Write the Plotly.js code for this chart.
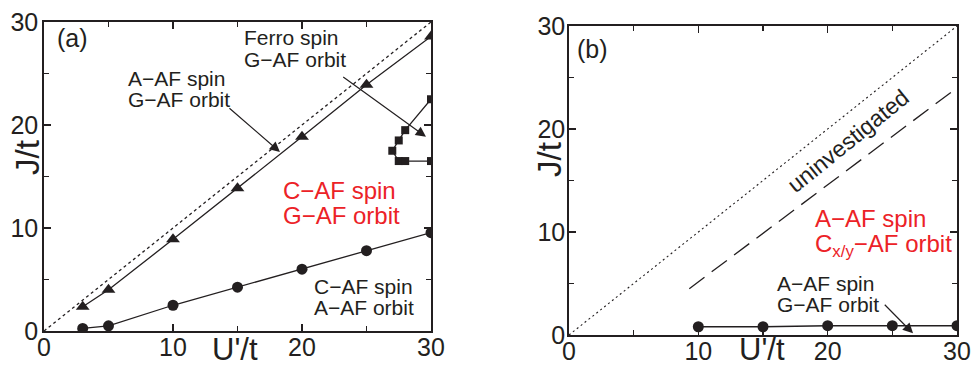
<!DOCTYPE html>
<html>
<head>
<meta charset="utf-8">
<script src="https://cdn.plot.ly/plotly-3.0.1.min.js"></script>
<style>html,body{margin:0;padding:0;background:#fff;}#chart{width:973px;height:367px;}</style>
</head>
<body>
<div id="chart"></div>
<script>
// ---- Data: panel (a) ----
const triU = [3, 5, 10, 15, 20, 25, 30];
const triJ = [2.35, 4.0, 8.9, 13.85, 18.85, 23.9, 28.6];
const cirU = [3, 5, 10, 15, 20, 25, 30];
const cirJ = [0.25, 0.5, 2.5, 4.25, 6.0, 7.8, 9.55];
const sqU = [30, 28, 27.5, 27, 27.5, 28, 30];
const sqJ = [22.5, 19.5, 18.5, 17.5, 16.5, 16.5, 16.5];
const diagU = [0, 30];
const diagJ = [0, 30];
// ---- Data: panel (b) ----
const bU = [10, 15, 20, 25, 30];
const bJ = [0.8, 0.8, 0.9, 0.9, 0.9];
const bDiagU = [0, 30];
const bDiagJ = [0, 30];
const bDashU = [9.3, 30];
const bDashJ = [4.5, 24.0];
const tickVals = [0, 10, 20, 30];
const tickText = ['0', '10', '20', '30'];

const W = 973, H = 367;
const px = x => x / W;
const py = y => 1 - y / H;
const INK = '#231f20';
const RED = '#ec2227';
const FONT = 'Liberation Sans, Arial, sans-serif';

const lineStyle = {color: INK, width: 1.3};
const traces = [
  {x: diagU, y: diagJ, xaxis: 'x', yaxis: 'y', mode: 'lines', line: {color: INK, width: 1.3, dash: '3px,3px'}},
  {x: triU, y: triJ, xaxis: 'x', yaxis: 'y', mode: 'lines+markers', line: lineStyle, marker: {symbol: 'triangle-up', size: 12, color: INK}},
  {x: cirU, y: cirJ, xaxis: 'x', yaxis: 'y', mode: 'lines+markers', line: lineStyle, marker: {symbol: 'circle', size: 11, color: INK}},
  {x: sqU, y: sqJ, xaxis: 'x', yaxis: 'y', mode: 'lines+markers', line: lineStyle, marker: {symbol: 'square', size: 8, color: INK}},
  {x: bDiagU, y: bDiagJ, xaxis: 'x2', yaxis: 'y2', mode: 'lines', line: {color: INK, width: 1.1, dash: '2px,3px'}},
  {x: bDashU, y: bDashJ, xaxis: 'x2', yaxis: 'y2', mode: 'lines', line: {color: INK, width: 1.3, dash: '19px,9px'}},
  {x: bU, y: bJ, xaxis: 'x2', yaxis: 'y2', mode: 'lines+markers', line: lineStyle, marker: {symbol: 'circle', size: 11, color: INK}}
];

function axis(domain, anchor) {
  return {
    domain: domain, anchor: anchor, range: [0, 30], autorange: false,
    tickvals: tickVals, ticktext: tickText,
    ticks: 'inside', ticklen: 7, tickwidth: 1.3, tickcolor: INK,
    minor: {dtick: 5, tick0: 0, ticks: 'inside', ticklen: 5, tickwidth: 1.3, tickcolor: INK},
    showline: true, linecolor: INK, linewidth: 1.8, mirror: 'ticks',
    showgrid: false, zeroline: false,
    tickfont: {family: FONT, size: 25, color: INK}
  };
}

const xa = axis([px(44), px(431)], 'y');
const ya = axis([py(331), py(22)], 'x');
const xb = axis([px(569), px(957)], 'y2');
const yb = axis([py(335), py(26)], 'x2');
ya.ticklabelstandoff = -1; yb.ticklabelstandoff = -3;
xa.ticklabelstandoff = -7; xb.ticklabelstandoff = -7;

function txt(text, x, y, size, color, xanchor, extra) {
  return Object.assign({
    text: text, xref: 'paper', yref: 'paper', x: px(x), y: py(y),
    xanchor: xanchor || 'left', yanchor: 'middle', showarrow: false,
    font: {family: FONT, size: size, color: color || INK}
  }, extra || {});
}
function arrow(xr, yr, tailX, tailY, tipX, tipY) {
  return {
    text: '', xref: xr, yref: yr, axref: xr, ayref: yr,
    x: tipX, y: tipY, ax: tailX, ay: tailY,
    showarrow: true, arrowhead: 2, arrowsize: 1.7, arrowwidth: 1.2, arrowcolor: INK
  };
}

const annotations = [
  // panel (a)
  txt('(a)', 72, 38, 25, INK, 'center'),
  txt('Ferro spin', 242, 38, 21),
  txt('G\u2212AF orbit', 242, 60, 21),
  txt('A\u2212AF spin', 126, 78, 21),
  txt('G\u2212AF orbit', 126, 99, 21),
  txt('C\u2212AF spin', 281, 190, 24, RED),
  txt('G\u2212AF orbit', 281, 215, 24, RED),
  txt('C\u2212AF spin', 312, 286, 21),
  txt('A\u2212AF orbit', 312, 307.5, 21),
  arrow('x', 'y', 14.26, 21.75, 18.29, 17.38),
  arrow('x', 'y', 23.08, 24.76, 29.61, 18.86),
  txt("U'/t", 235, 349, 31, INK, 'center'),
  txt('J/t', 28, 158, 33, INK, 'center', {textangle: -90}),
  // panel (b)
  txt('(b)', 592, 49, 25, INK, 'center'),
  txt('uninvestigated', 848, 141, 23, INK, 'center', {textangle: -39}),
  txt('A\u2212AF spin', 813, 218, 24, RED),
  txt('C<sub>x/y</sub>\u2212AF orbit', 813, 245, 24, RED),
  txt('A\u2212AF spin', 775, 283, 21),
  txt('G\u2212AF orbit', 775, 304, 21),
  arrow('x2', 'y2', 24.3, 3.08, 26.6, 0.16),
  txt("U'/t", 762, 349, 31, INK, 'center'),
  txt('J/t', 549, 160, 33, INK, 'center', {textangle: -90})
];

const layout = {
  width: W, height: H,
  margin: {l: 0, r: 0, t: 0, b: 0},
  paper_bgcolor: '#fff', plot_bgcolor: '#fff',
  showlegend: false,
  font: {family: FONT, color: INK},
  xaxis: xa, yaxis: ya, xaxis2: xb, yaxis2: yb,
  annotations: annotations
};

Plotly.newPlot('chart', traces, layout, {staticPlot: true, displayModeBar: false});
</script>
</body>
</html>
